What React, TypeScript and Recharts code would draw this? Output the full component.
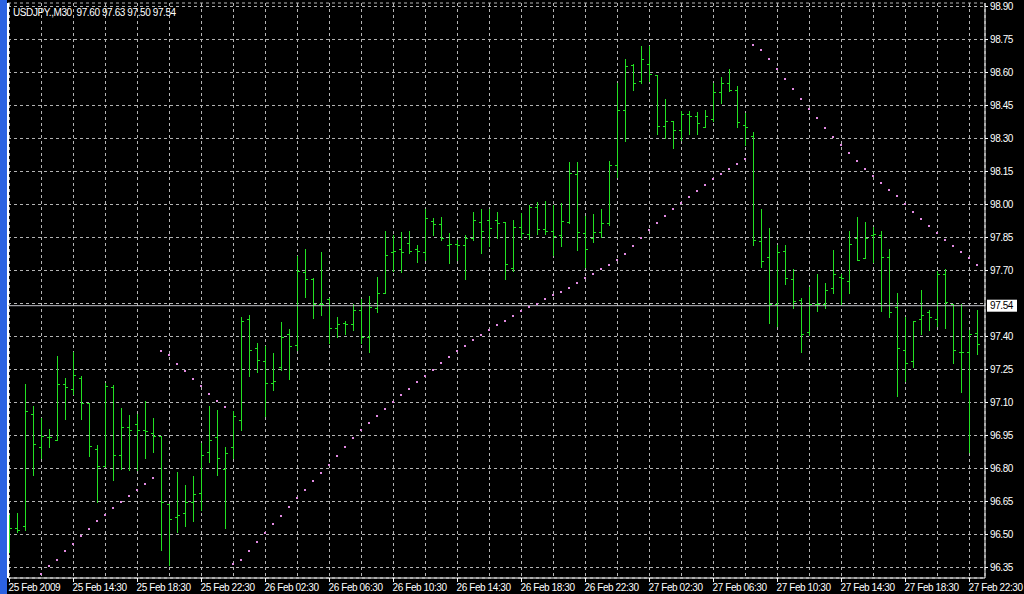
import React from 'react';
import { ComposedChart, Bar, Scatter, XAxis, YAxis, CartesianGrid, ReferenceLine } from 'recharts';

// USDJPY M30 OHLC, one entry per bar (bar 0 = 25 Feb 2009 10:30)
const opens = [
  96.52, 96.53, 96.54, 97.05, 96.90, 96.945, 96.93, 97.185, 97.16, 97.21,
  97.097, 96.89, 96.81, 97.17, 96.86, 96.99, 97.003, 96.976, 96.96, 96.947,
  96.64, 96.58, 96.60, 96.65, 96.69, 96.876, 96.944, 96.80, 96.90, 97.02,
  97.48, 97.35, 97.29, 97.19, 97.26, 97.41, 97.36, 97.695, 97.66, 97.55,
  97.57, 97.44, 97.46, 97.455, 97.52, 97.40, 97.53, 97.60, 97.786, 97.80,
  97.824, 97.80, 97.786, 97.925, 97.91, 97.816, 97.82, 97.816, 97.85, 97.92,
  97.93, 97.93, 97.92, 97.71, 97.90, 97.865, 97.99, 97.89, 97.88, 97.86,
  97.92, 98.14, 97.87, 97.85, 97.876, 97.917, 98.18, 98.43, 98.633, 98.56,
  98.64, 98.59, 98.356, 98.38, 98.34, 98.41, 98.40, 98.35, 98.39, 98.51,
  98.55, 98.52, 98.36, 98.31, 97.835, 97.76, 97.55, 97.79, 97.66, 97.568,
  97.42, 97.55, 97.55, 97.62, 97.67, 97.653, 97.85, 97.755, 97.86, 97.86,
  97.76, 97.535, 97.34, 97.29, 97.48, 97.51, 97.48, 97.683, 97.55, 97.33,
  97.33, 97.417,
];
const highs = [
  96.59, 96.60, 97.185, 97.085, 97.03, 96.98, 97.31, 97.21, 97.33, 97.22,
  97.10, 96.908, 97.19, 97.18, 97.074, 97.044, 97.05, 97.105, 97.03, 96.95,
  96.64, 96.785, 96.724, 96.765, 96.914, 97.083, 97.065, 96.90, 97.06, 97.49,
  97.497, 97.37, 97.355, 97.327, 97.464, 97.433, 97.764, 97.80, 97.665, 97.786,
  97.574, 97.488, 97.47, 97.55, 97.57, 97.585, 97.67, 97.88, 97.86, 97.873,
  97.88, 97.817, 97.98, 97.94, 97.945, 97.87, 97.84, 97.862, 97.964, 97.98,
  97.98, 97.964, 97.92, 97.93, 97.96, 98.00, 98.012, 98.017, 98.00, 98.008,
  98.194, 98.194, 97.95, 97.956, 97.98, 98.20, 98.553, 98.66, 98.64, 98.72,
  98.72, 98.59, 98.48, 98.38, 98.426, 98.426, 98.42, 98.43, 98.553, 98.58,
  98.614, 98.54, 98.417, 98.33, 97.98, 97.895, 97.815, 97.815, 97.705, 97.573,
  97.623, 97.683, 97.644, 97.795, 97.683, 97.88, 97.944, 97.92, 97.90, 97.88,
  97.80, 97.598, 97.49, 97.47, 97.61, 97.52, 97.70, 97.705, 97.55, 97.55,
  97.43, 97.52,
];
const lows = [
  96.42, 96.51, 96.52, 96.77, 96.85, 96.90, 96.93, 97.025, 97.14, 97.025,
  96.858, 96.65, 96.81, 96.75, 96.80, 96.794, 96.794, 96.847, 96.876, 96.43,
  96.36, 96.51, 96.54, 96.56, 96.61, 96.83, 96.77, 96.53, 96.85, 96.977,
  97.22, 97.24, 97.04, 97.158, 97.25, 97.208, 97.34, 97.58, 97.486, 97.50,
  97.37, 97.40, 97.41, 97.43, 97.37, 97.33, 97.51, 97.60, 97.70, 97.695,
  97.78, 97.74, 97.75, 97.86, 97.84, 97.733, 97.75, 97.66, 97.84, 97.78,
  97.81, 97.847, 97.66, 97.70, 97.846, 97.845, 97.865, 97.865, 97.77, 97.81,
  97.917, 97.795, 97.714, 97.83, 97.853, 97.906, 98.126, 98.29, 98.52, 98.55,
  98.56, 98.32, 98.30, 98.255, 98.292, 98.32, 98.32, 98.35, 98.38, 98.46,
  98.517, 98.35, 98.27, 97.815, 97.717, 97.462, 97.447, 97.638, 97.53, 97.33,
  97.406, 97.517, 97.53, 97.60, 97.547, 97.60, 97.75, 97.755, 97.74, 97.517,
  97.49, 97.13, 97.20, 97.26, 97.41, 97.43, 97.447, 97.44, 97.28, 97.15,
  96.876, 97.32,
];
const closes = [
  96.53, 96.52, 97.06, 96.91, 96.95, 96.945, 97.185, 97.17, 97.225, 97.10,
  96.903, 96.81, 97.176, 96.86, 96.99, 96.975, 96.976, 96.97, 96.95, 96.65,
  96.57, 96.59, 96.65, 96.686, 96.86, 96.93, 96.85, 96.87, 97.04, 97.47,
  97.34, 97.295, 97.19, 97.20, 97.40, 97.355, 97.70, 97.66, 97.55, 97.55,
  97.44, 97.455, 97.455, 97.52, 97.40, 97.536, 97.597, 97.77, 97.79, 97.786,
  97.79, 97.79, 97.94, 97.91, 97.847, 97.82, 97.816, 97.85, 97.93, 97.88,
  97.895, 97.915, 97.73, 97.90, 97.87, 97.99, 97.89, 97.88, 97.856, 97.926,
  98.144, 97.876, 97.80, 97.876, 97.917, 98.18, 98.43, 98.63, 98.55, 98.66,
  98.595, 98.356, 98.38, 98.34, 98.41, 98.40, 98.37, 98.40, 98.51, 98.55,
  98.52, 98.376, 98.35, 97.84, 97.744, 97.55, 97.785, 97.668, 97.56, 97.41,
  97.55, 97.55, 97.61, 97.683, 97.665, 97.82, 97.75, 97.85, 97.865, 97.76,
  97.512, 97.35, 97.28, 97.47, 97.50, 97.49, 97.683, 97.557, 97.34, 97.33,
  97.41, 97.368,
];
// Parabolic SAR dots, one per bar (null = not visible)
const sar = [
  null, null, null, null, 96.321, 96.355, 96.386, 96.426, 96.458, 96.491,
  96.526, 96.562, 96.590, 96.621, 96.649, 96.676, 96.703, 96.731, 96.755, 97.336,
  97.318, 97.276, 97.241, 97.206, 97.173, 97.140, 97.109, 97.079, 96.367, 96.382,
  96.427, 96.468, 96.508, 96.547, 96.586, 96.625, 96.664, 96.702, 96.741, 96.780,
  96.818, 96.859, 96.898, 96.940, 96.976, 97.008, 97.040, 97.071, 97.103, 97.135,
  97.162, 97.194, 97.221, 97.249, 97.281, 97.308, 97.335, 97.358, 97.385, 97.408,
  97.431, 97.453, 97.471, 97.493, 97.514, 97.533, 97.549, 97.571, 97.590, 97.603,
  97.621, 97.644, 97.667, 97.685, 97.706, 97.726, 97.746, 97.776, 97.812, 97.849,
  97.882, 97.917, 97.949, 97.981, 98.008, 98.035, 98.062, 98.090, 98.117, 98.140,
  98.162, 98.185, 98.209, 98.723, 98.703, 98.662, 98.617, 98.571, 98.526, 98.481,
  98.435, 98.394, 98.349, 98.306, 98.271, 98.235, 98.199, 98.162, 98.131, 98.099,
  98.067, 98.040, 98.003, 97.967, 97.935, 97.903, 97.871, 97.840, 97.812, 97.785,
  97.756, 97.726,
];

const gridTicks = [0, 4, 8, 12, 16, 20, 24, 28, 32, 36, 40, 44, 48, 52, 56, 60, 64, 68, 72, 76, 80, 84, 88, 92, 96, 100, 104, 108, 112, 116, 120];
const labelTicks = [0, 8, 16, 24, 32, 40, 48, 56, 64, 72, 80, 88, 96, 104, 112, 120];
const xTickLabels = [
  '25 Feb 2009', '25 Feb 14:30', '25 Feb 18:30', '25 Feb 22:30',
  '26 Feb 02:30', '26 Feb 06:30', '26 Feb 10:30', '26 Feb 14:30',
  '26 Feb 18:30', '26 Feb 22:30', '27 Feb 02:30', '27 Feb 06:30',
  '27 Feb 10:30', '27 Feb 14:30', '27 Feb 18:30', '27 Feb 22:30',
];
const yTicks = [96.35, 96.50, 96.65, 96.80, 96.95, 97.10, 97.25, 97.40, 97.55, 97.70, 97.85, 98.00, 98.15, 98.30, 98.45, 98.60, 98.75, 98.90];
const hiddenYTick = 97.55;
const currentPrice = 97.54;
const titleText = 'USDJPY.,M30  97.60 97.63 97.50 97.54';

const data = opens.map((o, i) => ({
  i,
  open: o,
  high: highs[i],
  low: lows[i],
  close: closes[i],
  range: [lows[i], highs[i]],
}));
const sarData = sar
  .map((v, i) => ({ i, sar: v }))
  .filter((d) => d.sar !== null);

const BAR_COLOR = '#22e022';
const SAR_COLOR = '#e28ae2';
const GRID_COLOR = '#b4b4b4';
const FONT = "'Liberation Sans', Arial, sans-serif";

const OhlcShape = (props: any) => {
  const { x, y, width, height, payload } = props;
  if (x == null || y == null || !payload) return null;
  const col = Math.floor(x + width / 2);
  const top = Math.min(y, y + height);
  const bottom = Math.max(y, y + height);
  const span = payload.high - payload.low;
  const py = (p: number) =>
    span > 0 ? top + ((payload.high - p) / span) * (bottom - top) : top;
  const t = Math.round(top);
  const b = Math.round(bottom);
  const oy = Math.round(py(payload.open));
  const cy = Math.round(py(payload.close));
  return (
    <g shapeRendering="crispEdges">
      <rect x={col} y={t} width={1} height={Math.max(1, b - t + 1)} fill={BAR_COLOR} />
      <rect x={col - 2} y={oy} width={2} height={1} fill={BAR_COLOR} />
      <rect x={col + 1} y={cy} width={2} height={1} fill={BAR_COLOR} />
    </g>
  );
};

const SarDot = (props: any) => {
  const { cx, cy } = props;
  if (cx == null || cy == null) return null;
  return (
    <rect
      x={Math.floor(cx) - 1}
      y={Math.round(cy) - 1}
      width={2}
      height={2}
      fill={SAR_COLOR}
      shapeRendering="crispEdges"
    />
  );
};

const XTick = (props: any) => {
  const { x, y, payload } = props;
  const idx = labelTicks.indexOf(payload.value);
  if (idx < 0) return <g />;
  return (
    <g>
      <rect x={Math.floor(x)} y={y} width={1} height={4} fill="#ffffff" shapeRendering="crispEdges" />
      <text x={x - 1} y={y + 13} fill="#ffffff" fontSize={10} fontFamily={FONT} letterSpacing={-0.4} textAnchor="start">
        {xTickLabels[idx]}
      </text>
    </g>
  );
};

const YTick = (props: any) => {
  const { x, y, payload } = props;
  if (Math.abs(payload.value - hiddenYTick) < 1e-6) return <g />;
  return (
    <g>
      <rect x={x} y={Math.floor(y)} width={3} height={1} fill="#ffffff" shapeRendering="crispEdges" />
      <text x={x + 5} y={y + 3.5} fill="#ffffff" fontSize={10} fontFamily={FONT} letterSpacing={-0.4} textAnchor="start">
        {payload.value.toFixed(2)}
      </text>
    </g>
  );
};

const PriceLabel = (props: any) => {
  const vb = props.viewBox;
  if (!vb) return null;
  const lx = vb.x + vb.width + 2;
  const ly = vb.y;
  return (
    <g>
      <rect x={lx} y={ly - 6} width={30} height={12} fill="#ffffff" />
      <text x={lx + 3} y={ly + 3.5} fill="#000000" fontSize={10} fontFamily={FONT} letterSpacing={-0.4}>
        {currentPrice.toFixed(2)}
      </text>
    </g>
  );
};

export default function App() {
  return (
    <div style={{ position: 'absolute', left: 0, top: 0, width: 1024, height: 594, background: '#000000', overflow: 'hidden' }}>
      <ComposedChart
        width={1024}
        height={594}
        data={data}
        margin={{ top: 3, right: 0, bottom: 0, left: 8 }}
      >
        <CartesianGrid stroke={GRID_COLOR} strokeDasharray="3 3" />
        <XAxis
          dataKey="i"
          type="number"
          domain={[-0.1875, 121.9375]}
          allowDataOverflow
          ticks={gridTicks}
          interval={0}
          height={16}
          tickSize={0}
          tickMargin={0}
          tickLine={false}
          axisLine={{ stroke: '#ffffff' }}
          tick={<XTick />}
        />
        <YAxis
          orientation="right"
          type="number"
          domain={[96.3023, 98.9159]}
          allowDataOverflow
          ticks={yTicks}
          interval={0}
          width={39}
          tickSize={0}
          tickMargin={0}
          tickLine={false}
          axisLine={{ stroke: '#ffffff' }}
          tick={<YTick />}
        />
        <ReferenceLine x={-0.1875} stroke="#ffffff" strokeWidth={2} />
        <ReferenceLine y={currentPrice} stroke="#c4c4cc" strokeWidth={1} label={<PriceLabel />} />
        <Bar dataKey="range" barSize={6} shape={<OhlcShape />} isAnimationActive={false} />
        <Scatter data={sarData} dataKey="sar" shape={<SarDot />} isAnimationActive={false} />
      </ComposedChart>
      <div style={{ position: 'absolute', left: 0, top: 0, width: 7, height: 594, background: '#2b62e2' }} />
      <div
        style={{
          position: 'absolute',
          left: 13,
          top: 7,
          color: '#ffffff',
          fontFamily: FONT,
          fontSize: 10,
          letterSpacing: -0.4,
          whiteSpace: 'pre',
          lineHeight: '12px',
        }}
      >
        {titleText}
      </div>
    </div>
  );
}
